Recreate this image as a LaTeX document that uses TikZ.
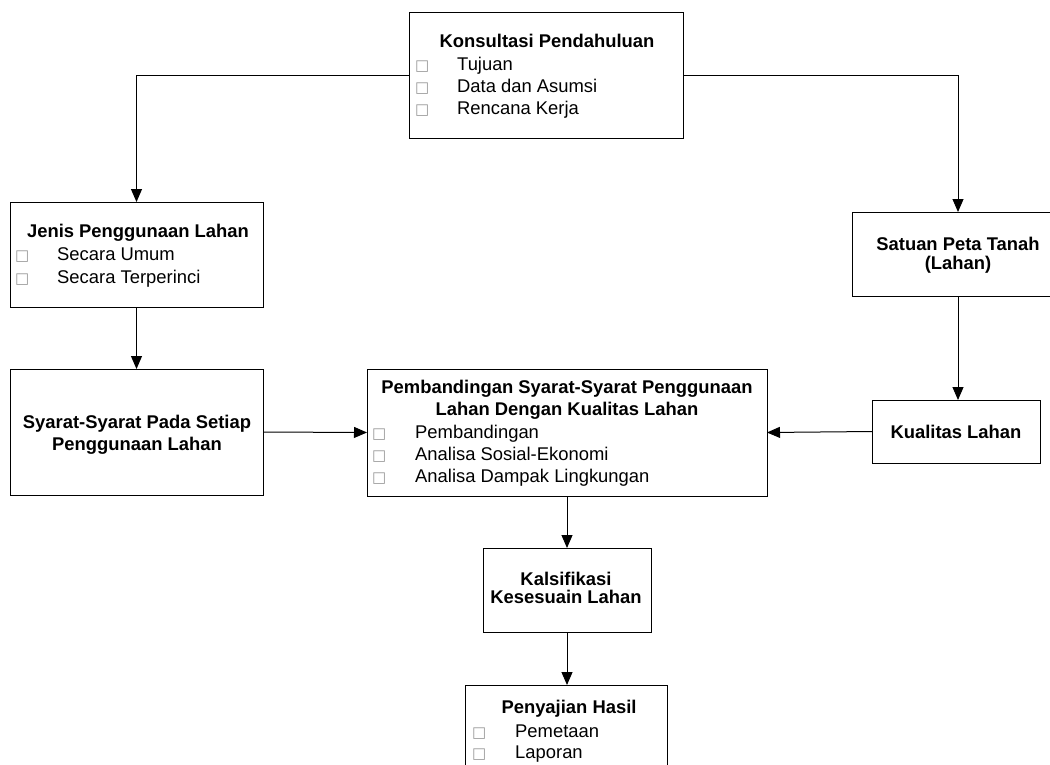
\documentclass[tikz,border=0pt]{standalone}
\usepackage{fontspec}
\setmainfont{Liberation Sans}
\newfontfamily\symfont{DejaVu Sans}
\usetikzlibrary{arrows.meta}
\tikzset{
  box/.style={draw=black, line width=1pt, fill=white, inner sep=0pt, outer sep=0pt, anchor=north west},
  txt/.style={inner sep=0pt, font=\fontsize{18.4}{22}\selectfont},
  ttl/.style={txt, anchor=base, font=\fontsize{18.4}{22}\selectfont\bfseries},
  itm/.style={txt, anchor=base west},
  bul/.style={inner sep=0pt, anchor=base west, text=black!40, font=\symfont\fontsize{15}{15}\selectfont},
  arr/.style={draw=black, line width=1pt, -{Triangle[width=11pt,length=13pt]}},
}
\begin{document}
\begin{tikzpicture}[x=1pt, y=-1pt]
\useasboundingbox (0,0) rectangle (1050,764);
\begin{scope}
\clip (0,0) rectangle (1050,764);
% boxes
\node[box, minimum width=274pt, minimum height=126pt] (konsul) at (409,12) {};
\node[box, minimum width=253pt, minimum height=105pt] (jenis) at (10,202) {};
\node[box, minimum width=253pt, minimum height=126pt] (syarat) at (10,369) {};
\node[box, minimum width=400pt, minimum height=127pt] (pemb) at (367,369) {};
\node[box, minimum width=212pt, minimum height=84pt] (satuan) at (852,212) {};
\node[box, minimum width=168pt, minimum height=63pt] (kualitas) at (872,400) {};
\node[box, minimum width=168pt, minimum height=84pt] (kals) at (483,548) {};
\node[box, minimum width=202pt, minimum height=110pt] (saji) at (465,685) {};

% connectors
\draw[arr] (konsul.west) -| (jenis.north);
\draw[arr] (konsul.east) -| (satuan.north);
\draw[arr] (jenis.south) -- (syarat.north);
\draw[arr] (syarat.east) -- (pemb.west);
\draw[arr] (satuan.south) -- (satuan.south |- kualitas.north);
\draw[arr] (kualitas.west) -- (pemb.east);
\draw[arr] (pemb.south) -- (pemb.south |- kals.north);
\draw[arr] (kals.south) -- (kals.south |- saji.north);

% Konsultasi
\node[ttl] (k0) at (547,47) {Konsultasi Pendahuluan};
\node[bul] (kb1) at (415,70) {□};
\node[itm] (k1) at (457,70) {Tujuan};
\node[bul] (kb2) at (415,92) {□};
\node[itm] (k2) at (457,92) {Data dan Asumsi};
\node[bul] (kb3) at (415,114) {□};
\node[itm] (k3) at (457,114) {Rencana Kerja};

% Jenis
\node[ttl] (j0) at (138,237) {Jenis Penggunaan Lahan};
\node[bul] (jb1) at (15,260) {□};
\node[itm] (j1) at (57,260) {Secara Umum};
\node[bul] (jb2) at (15,283) {□};
\node[itm] (j2) at (57,283) {Secara Terperinci};

% Syarat
\node[ttl] (s0) at (137,428) {Syarat-Syarat Pada Setiap};
\node[ttl] (s1) at (137,450) {Penggunaan Lahan};

% Pembandingan
\node[ttl] (p0) at (567,393) {Pembandingan Syarat-Syarat Penggunaan};
\node[ttl] (p1) at (567,415) {Lahan Dengan Kualitas Lahan};
\node[bul] (pb1) at (372,438) {□};
\node[itm] (p2) at (415,438) {Pembandingan};
\node[bul] (pb2) at (372,460) {□};
\node[itm] (p3) at (415,460) {Analisa Sosial-Ekonomi};
\node[bul] (pb3) at (372,482) {□};
\node[itm] (p4) at (415,482) {Analisa Dampak Lingkungan};

% Satuan
\node[ttl] (u0) at (958,250) {Satuan Peta Tanah};
\node[ttl] (u1) at (958,269) {(Lahan)};

% Kualitas
\node[ttl] (q0) at (956,438) {Kualitas Lahan};

% Kalsifikasi
\node[ttl] (c0) at (566,585) {Kalsifikasi};
\node[ttl] (c1) at (566,603) {Kesesuain Lahan};

% Penyajian
\node[ttl] (h0) at (569,713) {Penyajian Hasil};
\node[bul] (hb1) at (472,737) {□};
\node[itm] (h1) at (515,737) {Pemetaan};
\node[bul] (hb2) at (472,758) {□};
\node[itm] (h2) at (515,758) {Laporan};
\end{scope}
\end{tikzpicture}
\end{document}
